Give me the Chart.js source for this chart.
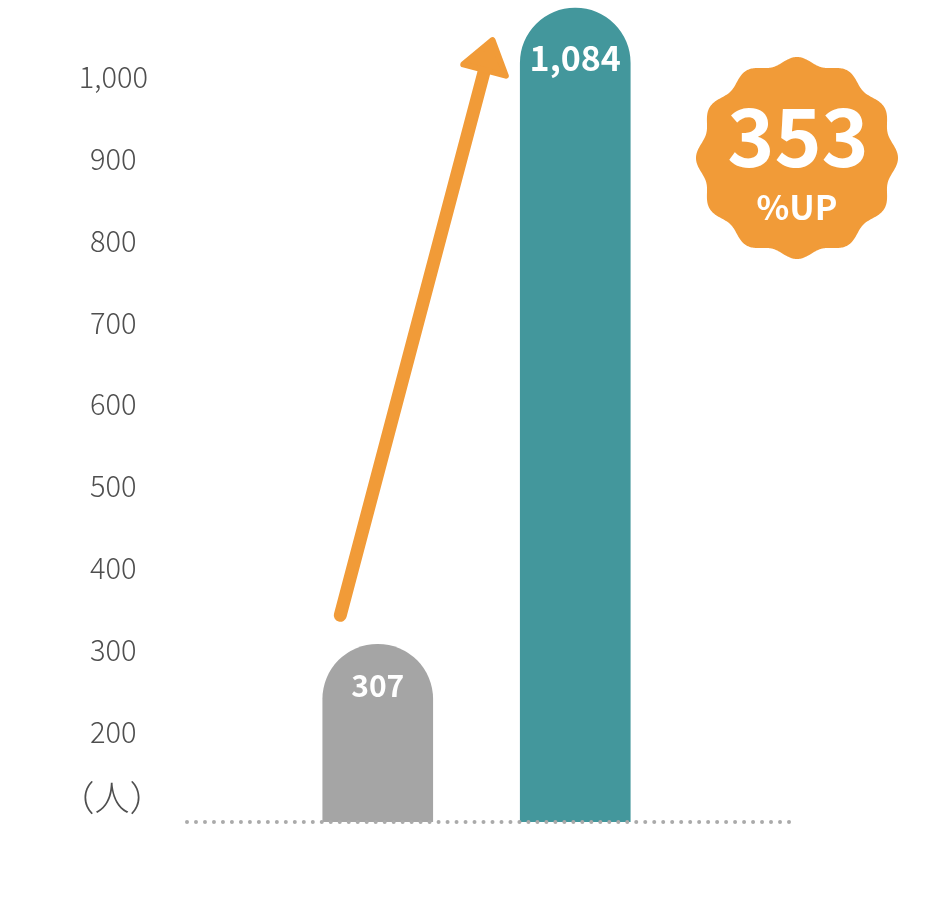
<!DOCTYPE html>
<html><head><meta charset="utf-8">
<script src="https://cdn.jsdelivr.net/npm/chart.js@4.4.1/dist/chart.umd.min.js"></script>
<style>html,body{margin:0;padding:0;background:#fff}#wrap{width:950px;height:908px;position:relative}</style>
</head><body><div id="wrap"><canvas id="c"></canvas></div>
<script>
// ---- data ----
const categories = ['before', 'after'];
const values = [307, 1084];
const barColors = ['#a5a5a5', '#43979c'];
const tickValues = [200, 300, 400, 500, 600, 700, 800, 900, 1000];
const unitLabel = '（人）';
const growthValue = '353';
const growthUnit = '%UP';

const FONT = '"Noto Sans CJK JP", "Noto Sans", sans-serif';
const ORANGE = '#f19b38';

const decor = {
  id: 'decor',
  afterDatasetsDraw(chart) {
    const {ctx, chartArea: ca} = chart;
    const ys = chart.scales.y;
    const meta = chart.getDatasetMeta(0);
    const [g, t] = meta.data;
    ctx.save();
    // dotted baseline
    ctx.fillStyle = '#aaaaaa';
    const x0 = ca.left - 92, x1 = ca.right + 115, n = 67;
    for (let i = 0; i <= n; i++) {
      ctx.beginPath();
      ctx.arc(x0 + (x1 - x0) * i / n, ys.bottom, 2, 0, Math.PI * 2);
      ctx.fill();
    }
    // value labels
    ctx.fillStyle = '#ffffff';
    ctx.textAlign = 'center';
    ctx.textBaseline = 'middle';
    const sizes = [30, 34];
    meta.data.forEach((bar, i) => {
      ctx.font = `bold ${sizes[i]}px ${FONT}`;
      ctx.fillText(values[i].toLocaleString('en-US'), bar.x, bar.y + (i === 0 ? 41 : 50));
    });
    // arrow
    const sx = g.x - 37.5, sy = g.y - 29;
    const tx = t.x - 82, ty = t.y + 29;
    const dx = tx - sx, dy = ty - sy, L = Math.hypot(dx, dy);
    const ux = dx / L, uy = dy / L, nx = -uy, ny = ux;
    const headLen = 34, headHalf = 22;
    ctx.strokeStyle = ORANGE; ctx.fillStyle = ORANGE;
    ctx.lineWidth = 13; ctx.lineCap = 'round';
    ctx.beginPath();
    ctx.moveTo(sx, sy);
    ctx.lineTo(tx - ux * (headLen - 4), ty - uy * (headLen - 4));
    ctx.stroke();
    const px = tx - ux * 3, py = ty - uy * 3;
    const bx = tx - ux * headLen, by = ty - uy * headLen;
    ctx.lineWidth = 6; ctx.lineJoin = 'round';
    ctx.beginPath();
    ctx.moveTo(px, py);
    ctx.lineTo(bx + nx * headHalf, by + ny * headHalf);
    ctx.lineTo(bx - nx * headHalf, by - ny * headHalf);
    ctx.closePath();
    ctx.fill(); ctx.stroke();
    // badge
    const cx = ca.right + 123, cy = 158, R = 97.5, A = 3.5, N = 12;
    ctx.beginPath();
    for (let i = 0; i <= 720; i++) {
      const a = i / 720 * Math.PI * 2;
      const r = R + A * Math.cos(N * a);
      const ang = a - Math.PI / 2;
      const x = cx + r * Math.cos(ang), y = cy + r * Math.sin(ang);
      if (i === 0) ctx.moveTo(x, y); else ctx.lineTo(x, y);
    }
    ctx.closePath();
    ctx.fill();
    ctx.fillStyle = '#ffffff';
    ctx.font = `bold 80px ${FONT}`;
    ctx.fillText(growthValue, cx + 1, cy - 21);
    ctx.font = `bold 34px ${FONT}`;
    ctx.fillText(growthUnit, cx, cy + 49);
    // unit label
    ctx.fillStyle = '#4f4f4f';
    ctx.font = `300 35px ${FONT}`;
    ctx.fillText(unitLabel, 112, ys.bottom - 24);
    ctx.restore();
  }
};

new Chart(document.getElementById('c'), {
  type: 'bar',
  data: {
    labels: categories,
    datasets: [{
      data: values,
      backgroundColor: barColors,
      barThickness: 110,
      borderSkipped: 'bottom',
      borderRadius: {topLeft: 55, topRight: 55, bottomLeft: 0, bottomRight: 0}
    }]
  },
  options: {
    responsive: true,
    maintainAspectRatio: false,
    animation: false,
    layout: {padding: {left: 0, right: 276, top: 0, bottom: 86}},
    plugins: {legend: {display: false}, tooltip: {enabled: false}},
    scales: {
      x: {display: false, offset: true},
      y: {
        min: 90, max: 1094,
        afterFit(s) { s.width = 279; s.paddingTop = 0; s.paddingBottom = 0; },
        afterBuildTicks(s) { s.ticks = tickValues.map(v => ({value: v})); },
        grid: {display: false, drawTicks: false},
        border: {display: false},
        ticks: {
          crossAlign: 'center',
          padding: 131,
          color: '#4f4f4f',
          font: {family: FONT, size: 29, weight: '300'},
          callback: v => v.toLocaleString('en-US')
        }
      }
    }
  },
  plugins: [decor]
});
</script>
</body></html>
